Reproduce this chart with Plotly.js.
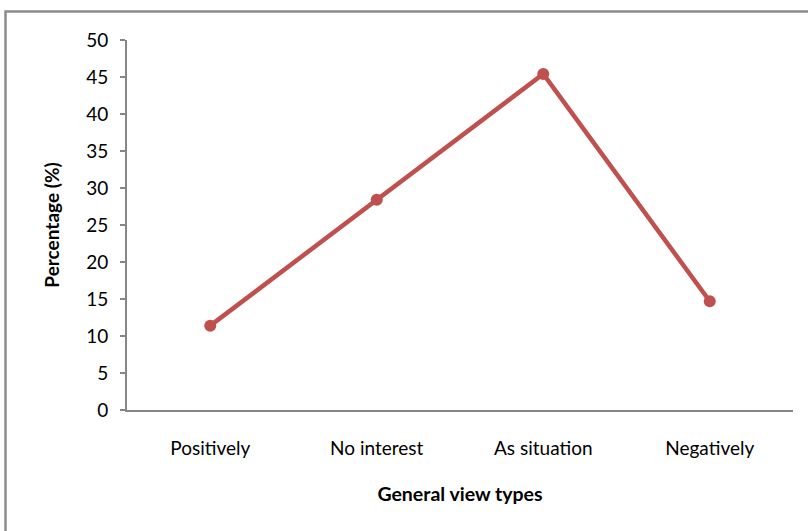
<!DOCTYPE html>
<html>
<head>
<meta charset="utf-8">
<script src="https://cdn.plot.ly/plotly-3.0.1.min.js"></script>
<style>
html,body{margin:0;padding:0;background:#fff;}
#chart{width:808px;height:531px;}
</style>
</head>
<body>
<div id="chart"></div>
<script>
var categories = ["Positively", "No interest", "As situation", "Negatively"];
var percentages = [11.4, 28.4, 45.4, 14.7];
var yTickValues = [0, 5, 10, 15, 20, 25, 30, 35, 40, 45, 50];

var font = "Lato, 'Open Sans', 'Liberation Sans', sans-serif";

var trace = {
  x: categories,
  y: percentages,
  type: "scatter",
  mode: "lines+markers",
  line: {color: "#C0504D", width: 4.5},
  marker: {color: "#C0504D", size: 12},
  showlegend: false,
  hoverinfo: "skip"
};

var layout = {
  width: 808,
  height: 531,
  margin: {l: 127, r: 15, t: 40, b: 121},
  paper_bgcolor: "#ffffff",
  plot_bgcolor: "#ffffff",
  font: {family: font, size: 19, color: "#000000"},
  xaxis: {
    type: "category",
    range: [-0.5, 3.5],
    showgrid: false,
    zeroline: false,
    showline: true,
    linecolor: "#868686",
    linewidth: 2,
    ticks: "",
    tickfont: {family: font, size: 19, color: "#000"},
    ticklabelstandoff: 20,
    title: {text: "<b>General view types</b>", font: {family: font, size: 19.5, color: "#000"}, standoff: 30}
  },
  yaxis: {
    range: [0, 50],
    tickvals: yTickValues,
    ticktext: yTickValues.map(String),
    showgrid: false,
    zeroline: false,
    showline: true,
    linecolor: "#868686",
    linewidth: 2,
    ticks: "outside",
    ticklen: 5,
    tickwidth: 1.5,
    tickcolor: "#868686",
    tickfont: {family: font, size: 19, color: "#000"},
    ticklabelstandoff: 8,
    title: {text: "<b>Percentage (%)</b>", font: {family: font, size: 19, color: "#000"}, standoff: 22}
  },
  shapes: [{
    type: "rect",
    xref: "paper", yref: "paper",
    x0: (5.5 - 127) / 666, x1: 1.5,
    y0: -1, y1: (410 - 11.5) / 370,
    line: {color: "#8c8c8c", width: 2.5},
    fillcolor: "rgba(0,0,0,0)",
    layer: "below"
  }]
};

Plotly.newPlot("chart", [trace], layout, {displayModeBar: false, staticPlot: true});
</script>
</body>
</html>
